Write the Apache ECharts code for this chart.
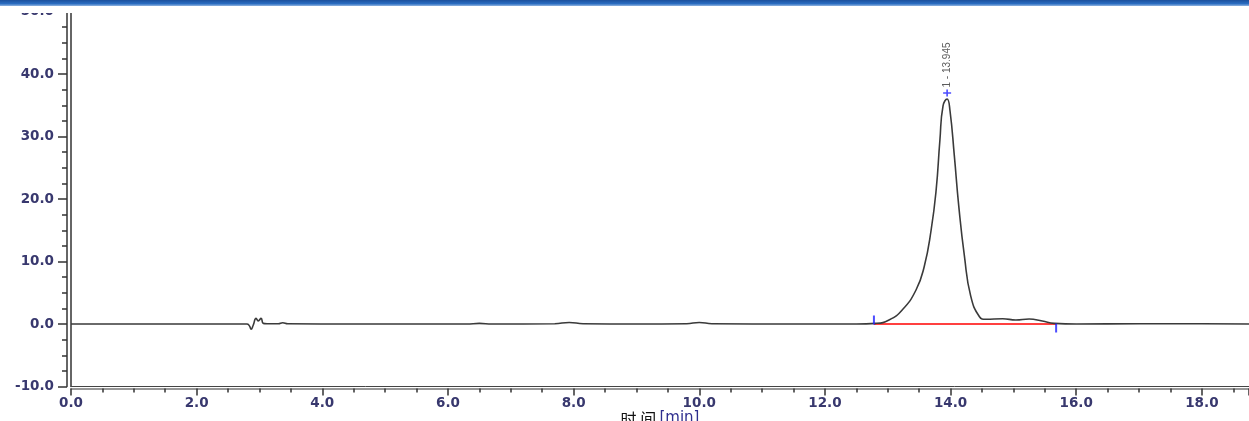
<!DOCTYPE html>
<html>
<head>
<meta charset="utf-8">
<script src="https://cdn.jsdelivr.net/npm/echarts@6/dist/echarts.min.js"></script>
<style>html,body{margin:0;padding:0;background:#fff;}#c{width:1249px;height:421px;}</style>
</head>
<body>
<div id="c"></div>
<script>
// time [min] and signal values
var traceTime = [0.0, 1.0, 2.0, 2.80, 2.84, 2.867, 2.90, 2.946, 2.98, 3.026, 3.06, 3.12, 3.30, 3.37, 3.45, 4.5, 6.3, 6.5, 6.7, 7.7, 7.93, 8.15, 9.0, 9.8, 10.0, 10.2, 11.5, 12.5, 12.81, 13.02, 13.23, 13.45, 13.58, 13.69, 13.77, 13.83, 13.88, 13.945, 13.99, 14.06, 14.13, 14.22, 14.32, 14.46, 14.56, 14.83, 15.04, 15.25, 15.46, 15.65, 16.0, 17.0, 18.0, 18.75];
var traceValue = [0.0, 0.0, 0.0, 0.0, -0.3, -0.85, -0.2, 0.9, 0.5, 0.9, 0.1, 0.05, 0.05, 0.2, 0.05, 0.0, 0.0, 0.1, 0.0, 0.05, 0.25, 0.05, 0.0, 0.05, 0.25, 0.05, 0.0, 0.0, 0.1, 0.64, 2.24, 5.44, 9.17, 15.0, 21.4, 29.4, 34.9, 36.0, 34.2, 26.9, 18.9, 10.9, 4.5, 1.17, 0.75, 0.85, 0.64, 0.8, 0.48, 0.1, 0.0, 0.05, 0.05, 0.0];
var peakTime = 13.945;
var peakValue = 36.0;
var peakLabel = '1 - 13.945';
var peakStart = 12.78;
var peakEnd = 15.68;

var trace = traceTime.map(function (t, i) { return [t, traceValue[i]]; });
var labelColor = '#38386e';
var labelFont = { color: labelColor, fontFamily: 'DejaVu Sans', fontSize: 13.5, fontWeight: 'bold' };
var chart = echarts.init(document.getElementById('c'));
chart.setOption({
  animation: false,
  grid: { left: 71, right: 0, top: 11.5, bottom: 34.5, containLabel: false, outerBoundsMode: 'none' },
  xAxis: [
    {
      type: 'value', min: 0, max: 18.75, interval: 2, position: 'bottom', offset: 0,
      axisLine: { show: true, onZero: false, lineStyle: { color: '#444', width: 1 } },
      axisTick: { show: false }, axisLabel: { show: false }, splitLine: { show: false }
    },
    {
      type: 'value', min: 0, max: 18.75, interval: 2, position: 'bottom', offset: 2,
      axisLine: { show: true, onZero: false, lineStyle: { color: '#777', width: 1.5 } },
      axisTick: { show: true, length: 7, lineStyle: { color: '#333', width: 1.5 } },
      minorTick: { show: true, splitNumber: 4, length: 4, lineStyle: { color: '#333', width: 1.5 } },
      axisLabel: Object.assign({ show: true, margin: 8, showMaxLabel: false,
        formatter: function (v) { return v.toFixed(1); } }, labelFont),
      splitLine: { show: false },
      name: '{a|时 间} {b|[min]}', nameLocation: 'middle', nameGap: 22, nameMoveOverlap: false,
      nameTextStyle: { rich: {
        a: { color: '#111', fontSize: 16, fontFamily: 'Noto Sans CJK SC' },
        b: { color: '#2e2e8e', fontSize: 15, fontFamily: 'DejaVu Sans' }
      } }
    }
  ],
  yAxis: [
    {
      type: 'value', min: -10, max: 50, interval: 10, position: 'left', offset: 4,
      axisLine: { show: true, onZero: false, lineStyle: { color: '#333', width: 1.5 } },
      axisTick: { show: true, length: 9, lineStyle: { color: '#333', width: 1.5 } },
      minorTick: { show: true, splitNumber: 4, length: 5, lineStyle: { color: '#333', width: 1.5 } },
      axisLabel: Object.assign({ show: true, margin: 13,
        formatter: function (v) { return v.toFixed(1); } }, labelFont),
      splitLine: { show: false }
    },
    {
      type: 'value', min: -10, max: 50, interval: 10, position: 'left', offset: 0,
      axisLine: { show: true, onZero: false, lineStyle: { color: '#333', width: 1.5 } },
      axisTick: { show: false }, axisLabel: { show: false }, splitLine: { show: false }
    }
  ],
  series: [
    {
      type: 'line', name: 'baseline', xAxisIndex: 0, yAxisIndex: 0,
      data: [[peakStart, 0], [peakEnd, 0]], symbol: 'none',
      lineStyle: { color: '#ff0000', width: 1.5 }, z: 3
    },
    {
      type: 'line', name: 'signal', xAxisIndex: 0, yAxisIndex: 0,
      data: trace, symbol: 'none', smooth: 0.5,
      lineStyle: { color: '#3a3a3a', width: 1.6 }, z: 4
    },
    {
      type: 'scatter', name: 'start', xAxisIndex: 0, yAxisIndex: 0,
      data: [[peakStart, 0]], symbol: 'rect', symbolSize: [2, 9], symbolOffset: [0, -4],
      itemStyle: { color: '#2020ff' }, z: 5, silent: true
    },
    {
      type: 'scatter', name: 'end', xAxisIndex: 0, yAxisIndex: 0,
      data: [[peakEnd, 0]], symbol: 'rect', symbolSize: [2, 9], symbolOffset: [0, 4],
      itemStyle: { color: '#2020ff' }, z: 5, silent: true
    },
    {
      type: 'scatter', name: 'apex', xAxisIndex: 0, yAxisIndex: 0,
      data: [[peakTime, peakValue]],
      symbol: 'path://M4,0 L6,0 L6,4 L10,4 L10,6 L6,6 L6,10 L4,10 L4,6 L0,6 L0,4 L4,4 Z',
      symbolSize: [8, 7], symbolOffset: [0, -6],
      itemStyle: { color: '#2020ff' }, z: 5, silent: true,
      label: { show: true, formatter: peakLabel, rotate: 90, position: 'top', distance: 2,
        align: 'left', verticalAlign: 'middle',
        color: '#333', fontSize: 10, fontFamily: 'Liberation Sans Narrow, Liberation Sans' }
    }
  ],
  graphic: [
    { type: 'rect', shape: { x: 0, y: 0, width: 1249, height: 13 }, style: { fill: '#fff' }, z: 100 },
    { type: 'rect', shape: { x: 0, y: 0, width: 1249, height: 6 }, z: 101,
      style: { fill: new echarts.graphic.LinearGradient(0, 0, 0, 1, [
        { offset: 0, color: '#1b4f9c' }, { offset: 0.6, color: '#2a6cc0' }, { offset: 1, color: '#8fb3e0' }
      ]) } }
  ]
});
</script>
</body>
</html>
